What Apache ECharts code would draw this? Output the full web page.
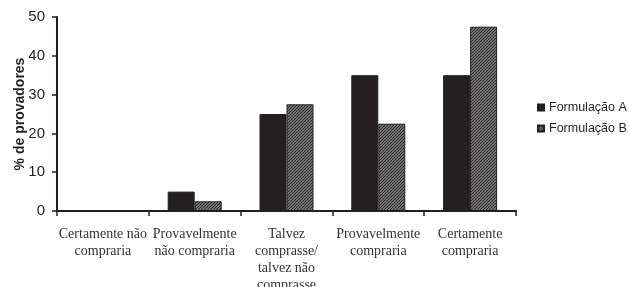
<!DOCTYPE html>
<html>
<head>
<meta charset="utf-8">
<script src="https://cdn.jsdelivr.net/npm/echarts@6/dist/echarts.min.js"></script>
<style>
  html, body { margin: 0; padding: 0; background: #fff; }
  #main { width: 629px; height: 287px; }
</style>
</head>
<body>
<div id="main"></div>
<script>
// data
var categories = [
    'Certamente não\ncompraria',
    'Provavelmente\nnão compraria',
    'Talvez\ncomprasse/\ntalvez não\ncomprasse',
    'Provavelmente\ncompraria',
    'Certamente\ncompraria'
];
var formulacaoA = [0, 5, 25, 35, 35];
var formulacaoB = [0, 2.5, 27.5, 22.5, 47.5];
var yTicks = [0, 10, 20, 30, 40, 50];

// hatch pattern for the second series
function makeHatch() {
    var c = document.createElement('canvas');
    c.width = 3;
    c.height = 3;
    var ctx = c.getContext('2d');
    ctx.fillStyle = '#8c8c8c';
    ctx.fillRect(0, 0, 3, 3);
    ctx.strokeStyle = '#2e2e2e';
    ctx.lineWidth = 1.2;
    ctx.beginPath();
    ctx.moveTo(0, 3); ctx.lineTo(3, 0);
    ctx.moveTo(-1, 1); ctx.lineTo(1, -1);
    ctx.moveTo(2, 4); ctx.lineTo(4, 2);
    ctx.stroke();
    return c;
}

var myChart = echarts.init(document.getElementById('main'));

var axisColor = '#231f20';

var option = {
    animation: false,
    grid: {
        left: 57,
        right: 113,
        top: 17,
        bottom: 76,
        containLabel: false,
        outerBoundsMode: 'none'
    },
    legend: {
        orient: 'vertical',
        left: 537,
        top: 101,
        padding: 0,
        itemWidth: 6,
        itemHeight: 6,
        itemGap: 8,
        icon: 'rect',
        textStyle: {
            fontFamily: 'Liberation Sans, Arial, sans-serif',
            fontSize: 12.5,
            color: '#231f20'
        },
        data: ['Formulação A', 'Formulação B']
    },
    xAxis: {
        type: 'category',
        data: categories,
        axisLine: { lineStyle: { color: axisColor, width: 2 } },
        axisTick: { show: true, length: 5, lineStyle: { color: axisColor, width: 1.5 } },
        axisLabel: {
            interval: 0,
            margin: 15,
            fontFamily: 'Liberation Serif, Times New Roman, serif',
            fontSize: 14,
            lineHeight: 17,
            color: '#333'
        }
    },
    yAxis: {
        type: 'value',
        min: yTicks[0],
        max: yTicks[yTicks.length - 1],
        interval: 10,
        name: '% de provadores',
        nameLocation: 'middle',
        nameGap: 30,
        nameMoveOverlap: false,
        nameTextStyle: {
            fontFamily: 'Liberation Sans, Arial, sans-serif',
            fontSize: 14,
            fontWeight: 'bold',
            color: '#231f20'
        },
        splitLine: { show: false },
        axisLine: { show: true, lineStyle: { color: axisColor, width: 2 } },
        axisTick: { show: true, length: 5, lineStyle: { color: axisColor, width: 1.5 } },
        axisLabel: {
            margin: 12,
            fontFamily: 'Liberation Sans, Arial, sans-serif',
            fontSize: 15,
            color: '#231f20'
        }
    },
    series: [
        {
            name: 'Formulação A',
            type: 'bar',
            data: formulacaoA,
            barWidth: 27,
            barGap: '0%',
            itemStyle: { color: '#231f20', borderColor: '#231f20', borderWidth: 1 }
        },
        {
            name: 'Formulação B',
            type: 'bar',
            data: formulacaoB,
            barWidth: 27,
            itemStyle: {
                color: { image: makeHatch(), repeat: 'repeat' },
                borderColor: '#231f20',
                borderWidth: 1
            }
        }
    ]
};
myChart.setOption(option);
</script>
</body>
</html>
